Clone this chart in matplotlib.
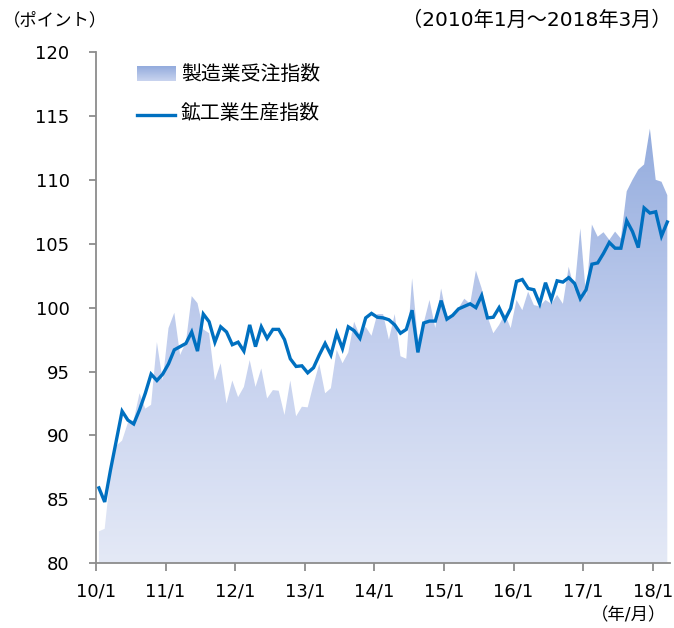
import numpy as np
import matplotlib
matplotlib.use("Agg")
import matplotlib.pyplot as plt
from matplotlib.colors import LinearSegmentedColormap
from matplotlib.lines import Line2D

plt.rcParams['font.family'] = ['DejaVu Sans', 'Noto Sans CJK JP']

# Monthly data 2010/1 - 2018/3
production = [
    85.9, 84.8, 87.3, 89.6, 91.9, 91.2, 90.9, 92.0, 93.3, 94.8, 94.3, 94.8,
    95.6, 96.7, 96.95, 97.2, 98.1, 96.6, 99.5, 98.9, 97.3, 98.5, 98.1, 97.1,
    97.3, 96.6, 98.65, 96.95, 98.5, 97.6, 98.3, 98.3, 97.5, 96.0, 95.4, 95.45,
    94.9, 95.3, 96.3, 97.2, 96.3, 98.0, 96.8, 98.5, 98.2, 97.6, 99.2, 99.55,
    99.25, 99.2, 99.05, 98.65, 98.0, 98.3, 99.8, 96.5, 98.8, 98.95, 98.95, 100.55,
    99.1, 99.4, 99.9, 100.1, 100.3, 100.0, 100.95, 99.2, 99.25, 100.0, 99.05, 99.95,
    102.05, 102.2, 101.5, 101.4, 100.3, 101.95, 100.65, 102.1, 102.0, 102.35, 101.9, 100.7,
    101.4, 103.4, 103.5, 104.25, 105.1, 104.65, 104.65, 106.8, 105.95, 104.7, 107.8, 107.4,
    107.5, 105.6, 106.7,
]
orders = [
    82.5, 82.7, 87.0, 89.2, 89.6, 91.0, 91.2, 93.3, 92.1, 92.4, 97.3, 94.3,
    98.4, 99.6, 96.3, 97.3, 100.9, 100.35, 98.3, 98.0, 94.3, 95.65, 92.5, 94.3,
    93.0, 93.8, 95.9, 93.8, 95.25, 92.9, 93.55, 93.5, 91.6, 94.3, 91.5, 92.25,
    92.2, 94.0, 95.6, 93.3, 93.7, 96.7, 95.65, 96.5, 98.9, 97.8, 98.5, 97.8,
    99.5, 99.5, 97.5, 99.5, 96.2, 96.0, 102.3, 97.5, 98.8, 100.6, 98.4, 101.5,
    99.3, 99.4, 99.95, 100.7, 100.3, 102.9, 101.5, 99.3, 98.0, 98.65, 99.5, 98.4,
    100.6, 99.8, 101.25, 100.2, 100.1, 100.6, 100.3, 101.0, 100.3, 103.2, 101.4, 106.2,
    100.9, 106.5, 105.55, 105.9, 105.3, 105.95, 105.4, 109.1, 110.0, 110.8, 111.2, 114.0,
    110.0, 109.85, 108.8,
]
tick_labels = ['10/1', '11/1', '12/1', '13/1', '14/1', '15/1', '16/1', '17/1', '18/1']
yticks = [80, 85, 90, 95, 100, 105, 110, 115, 120]
series_names = ['製造業受注指数', '鉱工業生産指数']

n = len(production)
x = np.arange(n) + 0.5

fig = plt.figure(figsize=(6.74, 6.28), dpi=100)
ax = fig.add_axes([96/674, 1 - 563.3/628, 574.2/674, 511.3/628])

cmap = LinearSegmentedColormap.from_list('g', ['#e4e9f6', '#c3cfee', '#92abdd'])
grad = np.linspace(0, 1, 256).reshape(-1, 1)
poly = ax.fill_between(x, orders, 80, facecolor='none', edgecolor='none')
img = ax.imshow(grad, extent=[0, n, 80, 114.5], aspect='auto', origin='lower',
                cmap=cmap, zorder=1, interpolation='bilinear')
img.set_clip_path(poly.get_paths()[0], transform=ax.transData)

ax.plot(x, production, color='#0070c0', lw=2.4, zorder=3, solid_joinstyle='miter')

for s in ['top', 'right']:
    ax.spines[s].set_visible(False)
for s in ['left', 'bottom']:
    ax.spines[s].set_color('#8c8c8c')
    ax.spines[s].set_linewidth(1.3)

ax.set_yticks(yticks)
ax.set_yticklabels([str(v) for v in yticks])
ax.set_xticks(np.arange(0, n, 12))
ax.set_xticklabels(tick_labels)
ax.tick_params(axis='y', length=5, width=1.3, color='#8c8c8c', pad=14, labelsize=13, labelcolor='#000000')
ax.tick_params(axis='x', length=6, width=1.3, color='#8c8c8c', pad=8, labelsize=13, labelcolor='#000000')

# legend
leg_grad = np.linspace(0, 1, 64).reshape(-1, 1)
leg_cmap = LinearSegmentedColormap.from_list('lg', ['#c9d4ef', '#93abdd'])
ax.imshow(leg_grad, extent=[0.0714, 0.1376, 0.943, 0.971], transform=ax.transAxes,
          aspect='auto', origin='lower', cmap=leg_cmap, zorder=4)
ax.text(0.148, 0.957, series_names[0], transform=ax.transAxes, fontsize=14.3,
        va='center', ha='left')
ax.add_line(Line2D([0.0714, 0.1376], [0.877, 0.877], transform=ax.transAxes,
                   color='#0070c0', lw=2.4))
ax.text(0.148, 0.879, series_names[1], transform=ax.transAxes, fontsize=14.3,
        va='center', ha='left')
ax.set_ylim(80, 120)
ax.set_xlim(0, n)

fig.text(3/674, 1 - 20/628, '（ポイント）', fontsize=12.5, va='center', ha='left')
fig.text(671/674, 1 - 20/628, '（2010年1月～2018年3月）', fontsize=14.5, va='center', ha='right')
fig.text(666/674, 1 - 615/628, '（年/月）', fontsize=12.5, va='center', ha='right')

fig.savefig('out.png', dpi=100)
